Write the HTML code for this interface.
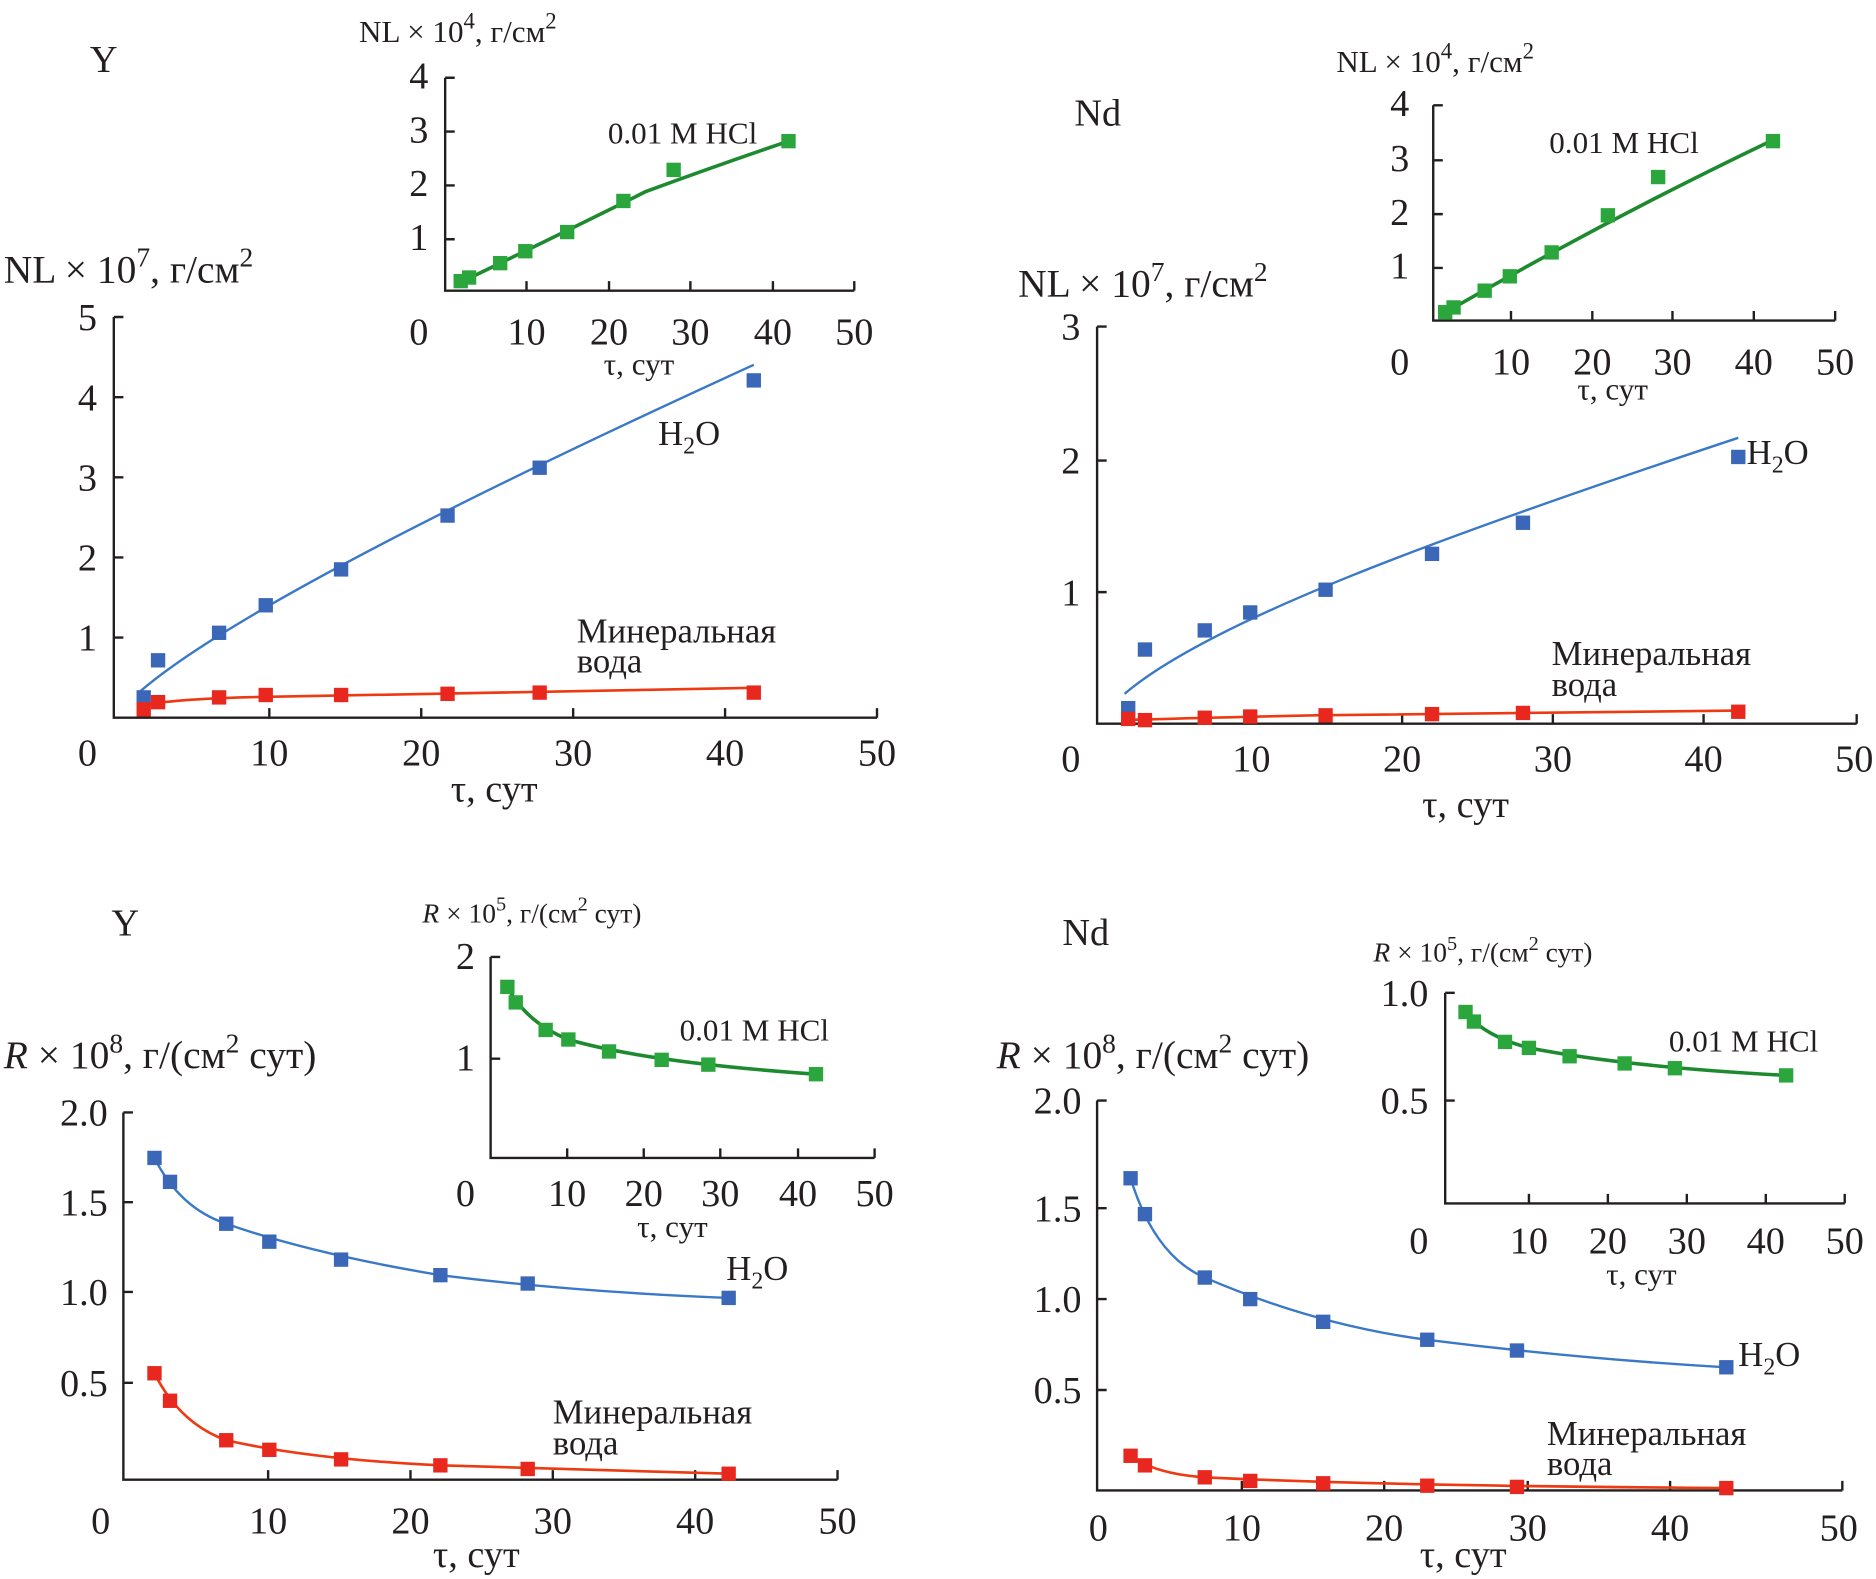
<!DOCTYPE html>
<html><head><meta charset="utf-8"><style>
html,body{margin:0;padding:0;background:#fff;}
svg{display:block}
text{font-family:"Liberation Serif",serif;fill:#231f20}
.t{font-size:32px}
.h{font-size:33px}
.s{font-size:29px}
.l{font-size:26px}
.ax{stroke:#231f20;stroke-width:2;fill:none}
.b{fill:#3a67b8}
.r{fill:#e8281e}
.g{fill:#2aa63c}
.bl{stroke:#3a78c8;stroke-width:2;fill:none}
.rl{stroke:#ee3a12;stroke-width:2.2;fill:none}
.gl{stroke:#1e8a30;stroke-width:3;fill:none}
</style></head><body>
<svg width="1876" height="1579" viewBox="0 0 1568 1320" xmlns="http://www.w3.org/2000/svg">
<!-- ===== Panel 1: Y NL ===== -->
<text x="75" y="60" class="t">Y</text>
<text x="3" y="236" class="h">NL × 10<tspan dy="-13" font-size="23">7</tspan><tspan dy="13">, г/см</tspan><tspan dy="-13" font-size="23">2</tspan></text>
<path class="ax" d="M95 265 V600 H733 M95 265 h8 M95 332 h8 M95 399 h8 M95 466 h8 M95 533 h8 M225 600 v-8 M352 600 v-8 M479 600 v-8 M606 600 v-8 M733 600 v-8"/>
<g class="t" text-anchor="middle">
<text x="73" y="276">5</text><text x="73" y="343">4</text><text x="73" y="410">3</text><text x="73" y="477">2</text><text x="73" y="544">1</text>
<text x="73" y="640">0</text><text x="225" y="640">10</text><text x="352" y="640">20</text><text x="479" y="640">30</text><text x="606" y="640">40</text><text x="733" y="640">50</text>
<text x="413" y="670">τ, сут</text></g>
<path class="bl" d="M117 578 C190 515 400 410 630 305"/>
<path class="rl" d="M117 590 Q140 585 200 583 L630 575"/>
<g class="b"><rect x="114" y="577" width="12" height="12"/><rect x="126" y="546" width="12" height="12"/><rect x="177" y="523" width="12" height="12"/><rect x="216" y="500" width="12" height="12"/><rect x="279" y="470" width="12" height="12"/><rect x="368" y="425" width="12" height="12"/><rect x="445" y="385" width="12" height="12"/><rect x="624" y="312" width="12" height="12"/></g>
<g class="r"><rect x="114" y="587" width="12" height="12"/><rect x="126" y="581" width="12" height="12"/><rect x="177" y="577" width="12" height="12"/><rect x="216" y="575" width="12" height="12"/><rect x="279" y="575" width="12" height="12"/><rect x="368" y="574" width="12" height="12"/><rect x="445" y="573" width="12" height="12"/><rect x="624" y="573" width="12" height="12"/></g>
<text x="550" y="372" class="s">H<tspan dy="7" font-size="20">2</tspan><tspan dy="-7">O</tspan></text>
<text x="482" y="537" class="s">Минеральная</text><text x="482" y="562" class="s">вода</text>
<!-- inset 1 -->
<text x="300" y="35" class="l">NL × 10<tspan dy="-11" font-size="19">4</tspan><tspan dy="11">, г/см</tspan><tspan dy="-11" font-size="19">2</tspan></text>
<path class="ax" d="M372 65 V243 H714 M372 65 h8 M372 110 h8 M372 155 h8 M372 200 h8 M440 243 v-8 M509 243 v-8 M577 243 v-8 M646 243 v-8 M714 243 v-8"/>
<g class="t" text-anchor="middle">
<text x="350" y="74">4</text><text x="350" y="119">3</text><text x="350" y="164">2</text><text x="350" y="209">1</text>
<text x="350" y="288">0</text><text x="440" y="288">10</text><text x="509" y="288">20</text><text x="577" y="288">30</text><text x="646" y="288">40</text><text x="714" y="288">50</text></g>
<text x="534" y="313" class="l" text-anchor="middle">τ, сут</text>
<path class="gl" d="M383 237 Q480 190 540 160 Q600 138 659 118"/>
<g class="g"><rect x="379" y="229" width="12" height="12"/><rect x="386" y="226" width="12" height="12"/><rect x="412" y="214" width="12" height="12"/><rect x="433" y="204" width="12" height="12"/><rect x="468" y="188" width="12" height="12"/><rect x="515" y="162" width="12" height="12"/><rect x="557" y="136" width="12" height="12"/><rect x="653" y="112" width="12" height="12"/></g>
<text x="508" y="120" class="l">0.01 M HCl</text>

<!-- ===== Panel 2: Nd NL ===== -->
<text x="898" y="105" class="t">Nd</text>
<text x="851" y="248" class="h">NL × 10<tspan dy="-13" font-size="23">7</tspan><tspan dy="13">, г/см</tspan><tspan dy="-13" font-size="23">2</tspan></text>
<path class="ax" d="M917 273 V605 H1552 M917 273 h8 M917 385 h8 M917 495 h8 M1046 605 v-8 M1172 605 v-8 M1298 605 v-8 M1424 605 v-8 M1552 605 v-8"/>
<g class="t" text-anchor="middle">
<text x="895" y="284">3</text><text x="895" y="396">2</text><text x="895" y="506">1</text>
<text x="895" y="645">0</text><text x="1046" y="645">10</text><text x="1172" y="645">20</text><text x="1298" y="645">30</text><text x="1424" y="645">40</text><text x="1550" y="645">50</text>
<text x="1225" y="683">τ, сут</text></g>
<path class="bl" d="M940 580 C1010 520 1200 450 1453 366"/>
<path class="rl" d="M940 602 Q1000 600 1100 598 L1453 594"/>
<g class="b"><rect x="937" y="586" width="12" height="12"/><rect x="951" y="537" width="12" height="12"/><rect x="1001" y="521" width="12" height="12"/><rect x="1039" y="506" width="12" height="12"/><rect x="1102" y="487" width="12" height="12"/><rect x="1191" y="457" width="12" height="12"/><rect x="1267" y="431" width="12" height="12"/><rect x="1447" y="376" width="12" height="12"/></g>
<g class="r"><rect x="937" y="595" width="12" height="12"/><rect x="951" y="596" width="12" height="12"/><rect x="1001" y="594" width="12" height="12"/><rect x="1039" y="593" width="12" height="12"/><rect x="1102" y="592" width="12" height="12"/><rect x="1191" y="591" width="12" height="12"/><rect x="1267" y="590" width="12" height="12"/><rect x="1447" y="589" width="12" height="12"/></g>
<text x="1460" y="388" class="s">H<tspan dy="7" font-size="20">2</tspan><tspan dy="-7">O</tspan></text>
<text x="1297" y="556" class="s">Минеральная</text><text x="1297" y="582" class="s">вода</text>
<!-- inset 2 -->
<text x="1117" y="60" class="l">NL × 10<tspan dy="-11" font-size="19">4</tspan><tspan dy="11">, г/см</tspan><tspan dy="-11" font-size="19">2</tspan></text>
<path class="ax" d="M1198 88 V268 H1534 M1198 88 h8 M1198 134 h8 M1198 179 h8 M1198 224 h8 M1263 268 v-8 M1331 268 v-8 M1398 268 v-8 M1466 268 v-8 M1534 268 v-8"/>
<g class="t" text-anchor="middle">
<text x="1170" y="97">4</text><text x="1170" y="143">3</text><text x="1170" y="188">2</text><text x="1170" y="233">1</text>
<text x="1170" y="313">0</text><text x="1263" y="313">10</text><text x="1331" y="313">20</text><text x="1398" y="313">30</text><text x="1466" y="313">40</text><text x="1534" y="313">50</text></g>
<text x="1348" y="334" class="l" text-anchor="middle">τ, сут</text>
<path class="gl" d="M1205 263 Q1340 185 1482 117"/>
<g class="g"><rect x="1202" y="255" width="12" height="12"/><rect x="1209" y="251" width="12" height="12"/><rect x="1235" y="237" width="12" height="12"/><rect x="1256" y="225" width="12" height="12"/><rect x="1291" y="205" width="12" height="12"/><rect x="1338" y="174" width="12" height="12"/><rect x="1380" y="142" width="12" height="12"/><rect x="1476" y="112" width="12" height="12"/></g>
<text x="1295" y="128" class="l">0.01 M HCl</text>

<!-- ===== Panel 3: Y R ===== -->
<text x="93" y="782" class="t">Y</text>
<text x="3" y="893" font-size="33"><tspan font-style="italic">R</tspan> × 10<tspan dy="-13" font-size="23">8</tspan><tspan dy="13">, г/(см</tspan><tspan dy="-13" font-size="23">2</tspan><tspan dy="13"> сут)</tspan></text>
<path class="ax" d="M103 930 V1237 H700 M103 930 h8 M103 1005 h8 M103 1080 h8 M103 1156 h8 M224 1237 v-8 M343 1237 v-8 M462 1237 v-8 M581 1237 v-8 M700 1237 v-8"/>
<g class="t" text-anchor="middle">
<text x="70" y="941">2.0</text><text x="70" y="1016">1.5</text><text x="70" y="1091">1.0</text><text x="70" y="1167">0.5</text>
<text x="84" y="1282">0</text><text x="224" y="1282">10</text><text x="343" y="1282">20</text><text x="462" y="1282">30</text><text x="581" y="1282">40</text><text x="700" y="1282">50</text>
<text x="398" y="1310">τ, сут</text></g>
<path class="bl" d="M129 968 Q150 1010 189 1023 Q260 1048 368 1066 Q480 1080 609 1085"/>
<path class="rl" d="M129 1148 Q150 1190 189 1204 Q260 1220 368 1225 L609 1232"/>
<g class="b"><rect x="123" y="962" width="12" height="12"/><rect x="136" y="982" width="12" height="12"/><rect x="183" y="1017" width="12" height="12"/><rect x="219" y="1032" width="12" height="12"/><rect x="279" y="1047" width="12" height="12"/><rect x="362" y="1060" width="12" height="12"/><rect x="435" y="1067" width="12" height="12"/><rect x="603" y="1079" width="12" height="12"/></g>
<g class="r"><rect x="123" y="1142" width="12" height="12"/><rect x="136" y="1165" width="12" height="12"/><rect x="183" y="1198" width="12" height="12"/><rect x="219" y="1206" width="12" height="12"/><rect x="279" y="1214" width="12" height="12"/><rect x="362" y="1219" width="12" height="12"/><rect x="435" y="1222" width="12" height="12"/><rect x="603" y="1226" width="12" height="12"/></g>
<text x="607" y="1070" class="s">H<tspan dy="7" font-size="20">2</tspan><tspan dy="-7">O</tspan></text>
<text x="462" y="1190" class="s">Минеральная</text><text x="462" y="1216" class="s">вода</text>
<!-- inset 3 -->
<text x="353" y="771" font-size="23"><tspan font-style="italic">R</tspan> × 10<tspan dy="-10" font-size="17">5</tspan><tspan dy="10">, г/(см</tspan><tspan dy="-10" font-size="17">2</tspan><tspan dy="10"> сут)</tspan></text>
<path class="ax" d="M410 800 V968 H731 M410 800 h8 M410 885 h8 M474 968 v-8 M538 968 v-8 M602 968 v-8 M667 968 v-8 M731 968 v-8"/>
<g class="t" text-anchor="middle">
<text x="389" y="810">2</text><text x="389" y="895">1</text>
<text x="389" y="1008">0</text><text x="474" y="1008">10</text><text x="538" y="1008">20</text><text x="602" y="1008">30</text><text x="667" y="1008">40</text><text x="731" y="1008">50</text></g>
<text x="562" y="1034" class="l" text-anchor="middle">τ, сут</text>
<path class="gl" d="M424 825 Q440 855 475 869 Q540 888 682 898"/>
<g class="g"><rect x="418" y="819" width="12" height="12"/><rect x="425" y="832" width="12" height="12"/><rect x="450" y="855" width="12" height="12"/><rect x="469" y="863" width="12" height="12"/><rect x="503" y="873" width="12" height="12"/><rect x="547" y="880" width="12" height="12"/><rect x="586" y="884" width="12" height="12"/><rect x="676" y="892" width="12" height="12"/></g>
<text x="568" y="870" class="l">0.01 M HCl</text>

<!-- ===== Panel 4: Nd R ===== -->
<text x="888" y="790" class="t">Nd</text>
<text x="833" y="893" font-size="33"><tspan font-style="italic">R</tspan> × 10<tspan dy="-13" font-size="23">8</tspan><tspan dy="13">, г/(см</tspan><tspan dy="-13" font-size="23">2</tspan><tspan dy="13"> сут)</tspan></text>
<path class="ax" d="M917 920 V1246 H1540 M917 920 h8 M917 1010 h8 M917 1086 h8 M917 1162 h8 M1038 1246 v-8 M1157 1246 v-8 M1277 1246 v-8 M1396 1246 v-8 M1540 1246 v-8"/>
<g class="t" text-anchor="middle">
<text x="884" y="931">2.0</text><text x="884" y="1021">1.5</text><text x="884" y="1097">1.0</text><text x="884" y="1173">0.5</text>
<text x="918" y="1288">0</text><text x="1038" y="1288">10</text><text x="1157" y="1288">20</text><text x="1277" y="1288">30</text><text x="1396" y="1288">40</text><text x="1537" y="1288">50</text>
<text x="1223" y="1310">τ, сут</text></g>
<path class="bl" d="M945 985 Q965 1050 1007 1068 Q1100 1108 1193 1120 Q1320 1136 1443 1143"/>
<path class="rl" d="M945 1217 Q965 1232 1007 1235 Q1150 1242 1443 1244"/>
<g class="b"><rect x="939" y="979" width="12" height="12"/><rect x="951" y="1009" width="12" height="12"/><rect x="1001" y="1062" width="12" height="12"/><rect x="1039" y="1080" width="12" height="12"/><rect x="1100" y="1099" width="12" height="12"/><rect x="1187" y="1114" width="12" height="12"/><rect x="1262" y="1123" width="12" height="12"/><rect x="1437" y="1137" width="12" height="12"/></g>
<g class="r"><rect x="939" y="1211" width="12" height="12"/><rect x="951" y="1219" width="12" height="12"/><rect x="1001" y="1229" width="12" height="12"/><rect x="1039" y="1232" width="12" height="12"/><rect x="1100" y="1234" width="12" height="12"/><rect x="1187" y="1236" width="12" height="12"/><rect x="1262" y="1237" width="12" height="12"/><rect x="1437" y="1238" width="12" height="12"/></g>
<text x="1453" y="1142" class="s">H<tspan dy="7" font-size="20">2</tspan><tspan dy="-7">O</tspan></text>
<text x="1293" y="1208" class="s">Минеральная</text><text x="1293" y="1233" class="s">вода</text>
<!-- inset 4 -->
<text x="1148" y="804" font-size="23"><tspan font-style="italic">R</tspan> × 10<tspan dy="-10" font-size="17">5</tspan><tspan dy="10">, г/(см</tspan><tspan dy="-10" font-size="17">2</tspan><tspan dy="10"> сут)</tspan></text>
<path class="ax" d="M1208 830 V1006 H1542 M1208 830 h8 M1208 920 h8 M1278 1006 v-8 M1344 1006 v-8 M1410 1006 v-8 M1476 1006 v-8 M1542 1006 v-8"/>
<g class="t" text-anchor="middle">
<text x="1174" y="841">1.0</text><text x="1174" y="931">0.5</text>
<text x="1186" y="1048">0</text><text x="1278" y="1048">10</text><text x="1344" y="1048">20</text><text x="1410" y="1048">30</text><text x="1476" y="1048">40</text><text x="1542" y="1048">50</text></g>
<text x="1372" y="1074" class="l" text-anchor="middle">τ, сут</text>
<path class="gl" d="M1225 846 Q1240 866 1278 876 Q1360 892 1493 899"/>
<g class="g"><rect x="1219" y="840" width="12" height="12"/><rect x="1226" y="848" width="12" height="12"/><rect x="1252" y="865" width="12" height="12"/><rect x="1272" y="870" width="12" height="12"/><rect x="1306" y="877" width="12" height="12"/><rect x="1352" y="883" width="12" height="12"/><rect x="1394" y="887" width="12" height="12"/><rect x="1487" y="893" width="12" height="12"/></g>
<text x="1395" y="879" class="l">0.01 M HCl</text>
</svg>
</body></html>
